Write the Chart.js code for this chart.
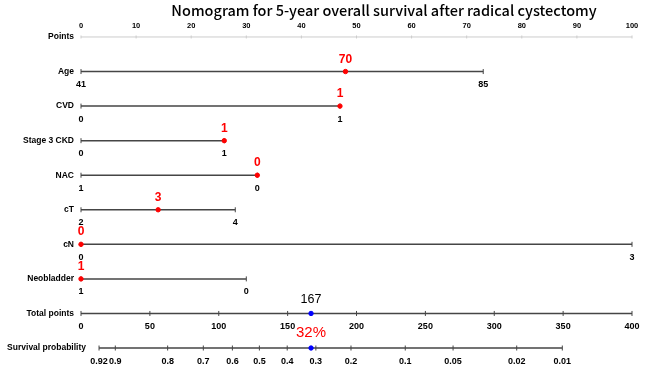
<!DOCTYPE html>
<html lang="en">
<head>
    <meta charset="UTF-8">
    <title>Nomogram for 5-year overall survival after radical cystectomy</title>
    <style>
        body { margin: 0; padding: 0; background: #fff; }
        .chart-box { width: 650px; height: 371px; }
    </style>
</head>
<body>

<div class="chart-box">
    <canvas id="nomogram"></canvas>
</div>

<script src="https://cdn.jsdelivr.net/npm/chart.js"></script>
<script>
    // row names, top to bottom
    const rowNames = ['Points', 'Age', 'CVD', 'Stage 3 CKD', 'NAC', 'cT', 'cN', 'Neobladder', 'Total points', 'Survival probability'];

    // points scale (0-100)
    const pointsTicks = [0, 10, 20, 30, 40, 50, 60, 70, 80, 90, 100];

    // each variable: tick labels and the points they sit on
    const ageLabels = ['41', '85'];
    const agePoints = [0, 73];
    const cvdLabels = ['0', '1'];
    const cvdPoints = [0, 47];
    const ckdLabels = ['0', '1'];
    const ckdPoints = [0, 26];
    const nacLabels = ['1', '0'];
    const nacPoints = [0, 32];
    const ctLabels = ['2', '4'];
    const ctPoints = [0, 28];
    const cnLabels = ['0', '3'];
    const cnPoints = [0, 100];
    const neoLabels = ['1', '0'];
    const neoPoints = [0, 30];

    // total points scale (0-400)
    const totalTicks = [0, 50, 100, 150, 200, 250, 300, 350, 400];

    // survival probability ticks, placed on the total points scale
    const survivalLabels = ['0.92', '0.9', '0.8', '0.7', '0.6', '0.5', '0.4', '0.3', '0.2', '0.1', '0.05', '0.02', '0.01'];
    const survivalAtTotal = [13.1, 24.9, 62.9, 88.8, 109.9, 129.5, 149.7, 170.5, 196.0, 235.4, 270.1, 316.3, 349.4];

    // the example patient
    const selectedLabels = ['70', '1', '1', '0', '3', '0', '1'];
    const selectedPoints = [48, 47, 26, 32, 14, 0, 0];
    const totalSelected = 167;
    const survivalSelected = '32%';

    const LINE = '#454545';
    const RED = '#ff0000';
    const BLUE = '#0000ff';

    const rows = [
        { vals: pointsTicks, labels: pointsTicks.map(String), axis: 'x', light: true },
        { vals: agePoints, labels: ageLabels, axis: 'x' },
        { vals: cvdPoints, labels: cvdLabels, axis: 'x' },
        { vals: ckdPoints, labels: ckdLabels, axis: 'x' },
        { vals: nacPoints, labels: nacLabels, axis: 'x' },
        { vals: ctPoints, labels: ctLabels, axis: 'x' },
        { vals: cnPoints, labels: cnLabels, axis: 'x' },
        { vals: neoPoints, labels: neoLabels, axis: 'x' },
        { vals: totalTicks, labels: totalTicks.map(String), axis: 'x2' },
        { vals: survivalAtTotal, labels: survivalLabels, axis: 'x2' }
    ];

    const datasets = rows.map((r, i) => ({
        data: r.vals.map(v => ({ x: v, y: i })),
        xAxisID: r.axis,
        showLine: true,
        borderColor: r.light ? '#cccccc' : LINE,
        borderWidth: r.light ? 1 : 1.5,
        pointStyle: 'line',
        rotation: 90,
        pointRadius: r.light ? 1.5 : 2.5,
        pointBorderColor: r.light ? '#cccccc' : LINE,
        pointBorderWidth: 1,
        clip: false,
        order: 1
    }));

    // red dots for the patient's values (drawn on top)
    datasets.push({
        data: selectedPoints.map((p, k) => ({ x: p, y: k + 1 })),
        xAxisID: 'x',
        showLine: false,
        pointStyle: 'circle',
        pointRadius: 2.2,
        backgroundColor: RED,
        borderColor: RED,
        clip: false,
        order: 0
    });

    // blue dots for total points and survival
    datasets.push({
        data: [{ x: totalSelected, y: 8 }, { x: totalSelected, y: 9 }],
        xAxisID: 'x2',
        showLine: false,
        pointStyle: 'circle',
        pointRadius: 2.2,
        backgroundColor: BLUE,
        borderColor: BLUE,
        clip: false,
        order: 0
    });

    const labelPlugin = {
        id: 'nomoLabels',
        afterDatasetsDraw(chart) {
            const ctx = chart.ctx;
            const yScale = chart.scales.y;
            ctx.save();

            // title
            ctx.fillStyle = '#000';
            ctx.font = '500 14.5px "Noto Sans CJK JP"';
            ctx.textAlign = 'center';
            ctx.textBaseline = 'alphabetic';
            ctx.fillText('Nomogram for 5-year overall survival after radical cystectomy', 384, 16);

            rows.forEach((r, i) => {
                const sx = chart.scales[r.axis];
                const py = yScale.getPixelForValue(i);

                // row name
                ctx.font = 'bold 8.5px "Liberation Sans"';
                ctx.textAlign = 'right';
                ctx.textBaseline = 'middle';
                ctx.fillStyle = '#000';
                ctx.fillText(rowNames[i], i === 9 ? 86 : 74, py);

                // tick labels
                ctx.textAlign = 'center';
                ctx.textBaseline = 'alphabetic';
                ctx.font = r.light ? 'bold 7.5px "Liberation Sans"' : 'bold 9px "Liberation Sans"';
                r.vals.forEach((v, k) => {
                    const px = sx.getPixelForValue(v);
                    ctx.fillText(r.labels[k], px, r.light ? py - 8.7 : py + 15.5);
                });
            });

            // patient values above the red dots
            ctx.fillStyle = RED;
            ctx.font = 'bold 12px "Liberation Sans"';
            selectedPoints.forEach((p, k) => {
                ctx.fillText(selectedLabels[k], chart.scales.x.getPixelForValue(p), yScale.getPixelForValue(k + 1) - 9);
            });

            // total and survival
            const tx = chart.scales.x2.getPixelForValue(totalSelected);
            ctx.fillStyle = '#000';
            ctx.font = '12.5px "Liberation Sans"';
            ctx.fillText(String(totalSelected), tx, yScale.getPixelForValue(8) - 10);
            ctx.fillStyle = RED;
            ctx.font = '15px "Liberation Sans"';
            ctx.fillText(survivalSelected, tx, yScale.getPixelForValue(9) - 10.7);

            ctx.restore();
        }
    };

    new Chart(document.getElementById('nomogram'), {
        type: 'scatter',
        data: { datasets: datasets },
        options: {
            responsive: true,
            maintainAspectRatio: false,
            animation: false,
            layout: { padding: { left: 81, right: 18, top: 19.7, bottom: 5.7 } },
            plugins: {
                legend: { display: false },
                tooltip: { enabled: false }
            },
            scales: {
                x: { type: 'linear', min: 0, max: 100, display: false },
                x2: { type: 'linear', min: 0, max: 400, display: false },
                y: { type: 'linear', min: -0.5, max: 9.5, reverse: true, display: false }
            }
        },
        plugins: [labelPlugin]
    });
</script>

</body>
</html>
